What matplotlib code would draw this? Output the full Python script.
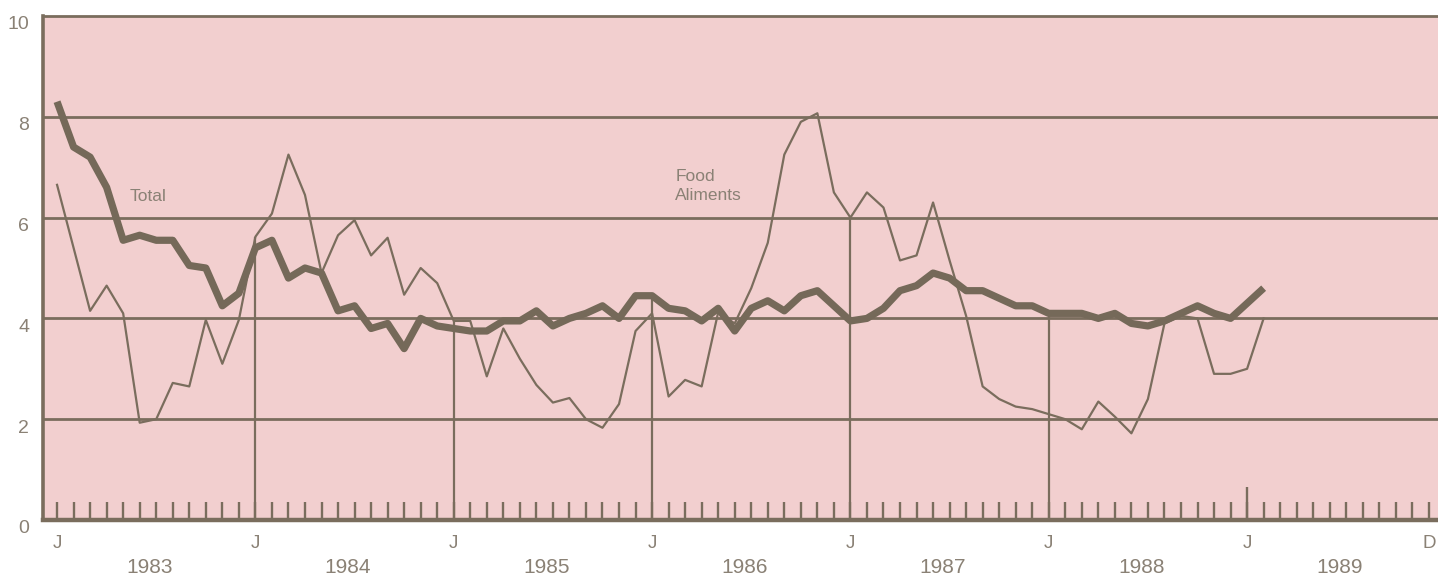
import numpy as np
import matplotlib
matplotlib.use("Agg")
import matplotlib.pyplot as plt
from matplotlib.transforms import ScaledTranslation, blended_transform_factory

# Monthly values, January 1983 onwards (percent change, year over year)
total = [
    8.3, 7.4, 7.2, 6.6, 5.55, 5.65, 5.55, 5.55, 5.05, 5.0, 4.25, 4.5,    # 1983
    5.4, 5.55, 4.8, 5.0, 4.9, 4.15, 4.25, 3.8, 3.9, 3.4, 4.0, 3.85,      # 1984
    3.8, 3.75, 3.75, 3.95, 3.95, 4.15, 3.85, 4.0, 4.1, 4.25, 4.0, 4.45,  # 1985
    4.45, 4.2, 4.15, 3.95, 4.2, 3.75, 4.2, 4.35, 4.15, 4.45, 4.55, 4.25, # 1986
    3.95, 4.0, 4.2, 4.55, 4.65, 4.9, 4.8, 4.55, 4.55, 4.4, 4.25, 4.25,   # 1987
    4.1, 4.1, 4.1, 4.0, 4.1, 3.9, 3.85, 3.95, 4.1, 4.25, 4.1, 4.0,       # 1988
    4.3, 4.6,                                                           # 1989
]
food = [
    6.65, 5.4, 4.15, 4.65, 4.1, 1.93, 2.0, 2.72, 2.65, 3.97, 3.1, 3.97,  # 1983
    5.62, 6.08, 7.25, 6.45, 4.9, 5.65, 5.95, 5.25, 5.6, 4.47, 5.0, 4.7,  # 1984
    3.95, 3.95, 2.85, 3.8, 3.2, 2.68, 2.33, 2.42, 2.0, 1.83, 2.3, 3.75,  # 1985
    4.1, 2.45, 2.78, 2.65, 4.12, 3.9, 4.6, 5.5, 7.25, 7.9, 8.07, 6.5,    # 1986
    6.0, 6.5, 6.2, 5.15, 5.25, 6.3, 5.15, 4.05, 2.65, 2.4, 2.25, 2.2,    # 1987
    2.1, 2.0, 1.8, 2.35, 2.05, 1.72, 2.4, 3.9, 4.05, 4.0, 2.9, 2.9,      # 1988
    3.0, 4.0,                                                           # 1989
]
years = [1983, 1984, 1985, 1986, 1987, 1988, 1989]
y_ticks = [0, 2, 4, 6, 8, 10]
n_months = 84

PINK = "#f2cfcf"
LINE = "#7a6d5d"
TEXT = "#8a8175"
FONT = "Liberation Sans"

fig = plt.figure(figsize=(14.38, 5.77), dpi=100)
fig.patch.set_facecolor("white")
ax = fig.add_axes([43 / 1438, 1 - 520 / 577, 1 - 43 / 1438, 504 / 577])
ax.set_facecolor(PINK)
ax.set_xlim(-0.85, 83.55)
ax.set_ylim(0, 10)

# frame: left, top and bottom only
for side in ["left", "top", "bottom"]:
    ax.spines[side].set_color(LINE)
ax.spines["left"].set_linewidth(2.6)
ax.spines["top"].set_linewidth(2.0)
ax.spines["bottom"].set_linewidth(3.2)
ax.spines["right"].set_visible(False)

# horizontal rules
for v in y_ticks[1:-1]:
    ax.axhline(v, color=LINE, lw=2.0, zorder=1)

# month ticks along the base, taller one at the last January
months_all = np.arange(n_months)
ax.vlines(months_all, 0, 0.36, color=LINE, lw=1.7, zorder=2)
ax.vlines(72, 0, 0.66, color=LINE, lw=1.7, zorder=2)

# January rules rise to the higher of the two series
for m in range(12, 61, 12):
    ax.vlines(m, 0, max(total[m], food[m]), color=LINE, lw=1.6, zorder=2)

months = np.arange(len(total))
ax.plot(months, food, color=LINE, lw=1.6, zorder=3)
ax.plot(months, total, color="#756959", lw=5.2, zorder=4,
        solid_joinstyle="round", solid_capstyle="butt")

# y labels, nudged slightly below their rules
ax.set_yticks(y_ticks)
ax.set_yticklabels([str(v) for v in y_ticks])
ax.tick_params(axis="y", length=0, pad=10, labelsize=14, labelcolor=TEXT)
nudge = ScaledTranslation(0, -5 / 72, fig.dpi_scale_trans)
for lab in ax.get_yticklabels():
    lab.set_fontfamily(FONT)
    lab.set_transform(lab.get_transform() + nudge)
ax.set_xticks([])

# x labels: J at each January, D at the end, years beneath
trans = blended_transform_factory(ax.transData, ax.transAxes)
for k, yr in enumerate(years):
    ax.text(12 * k, -0.047, "J", transform=trans, ha="center", va="center",
            fontsize=13.5, color=TEXT, family=FONT)
    ax.text(12 * k + 5.6, -0.095, str(yr), transform=trans, ha="center",
            va="center", fontsize=15, color=TEXT, family=FONT)
ax.text(83, -0.047, "D", transform=trans, ha="center", va="center",
        fontsize=13.5, color=TEXT, family=FONT)

# series labels
ax.text(4.4, 6.42, "Total", ha="left", va="center", fontsize=12.5,
        color=TEXT, family=FONT)
ax.text(37.4, 6.63, "Food\nAliments", ha="left", va="center", fontsize=12.5,
        color=TEXT, family=FONT, linespacing=1.3)

fig.savefig("out.png", dpi=100, facecolor=fig.get_facecolor())
plt.close(fig)
